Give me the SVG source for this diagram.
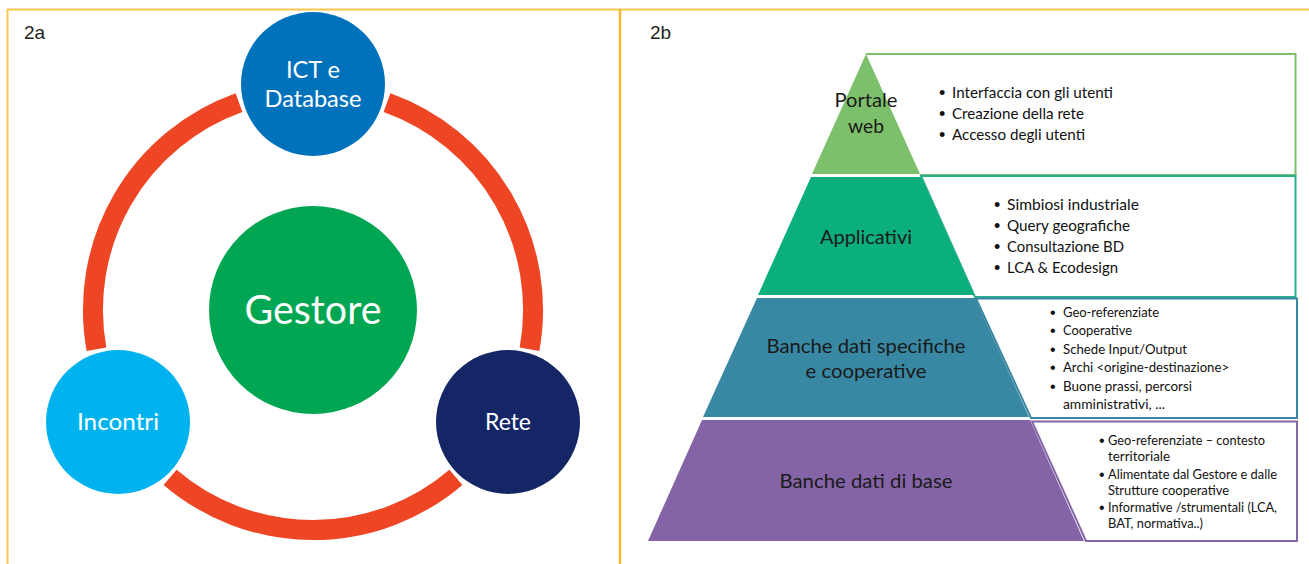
<svg xmlns="http://www.w3.org/2000/svg" width="1309" height="564" viewBox="0 0 1309 564">
<style>
.lab{font-family:Lato,"Open Sans","Liberation Sans",sans-serif;fill:#fff;text-anchor:middle}
.pl{font-family:Lato,"Open Sans","Liberation Sans",sans-serif;fill:#1a1a1a;text-anchor:middle;font-size:20px}
.bt{font-family:Lato,"Open Sans","Liberation Sans",sans-serif;fill:#111;font-size:15px}
.bs{font-family:Lato,"Open Sans","Liberation Sans",sans-serif;fill:#111;font-size:13.3px}
.bu{font-family:"Liberation Sans",Arial,sans-serif;fill:#111;font-size:18px}
.bv{font-family:"Liberation Sans",Arial,sans-serif;fill:#111;font-size:16px}
.tag{font-family:"Liberation Sans",Arial,sans-serif;fill:#231f20;font-size:19px}
.ring{fill:none;stroke:#ee4524;stroke-width:20}
.box{fill:#fff;stroke-width:2}
</style>
<rect width="1309" height="564" fill="#fff"/>
<g id="frame">
<line x1="7" y1="9.5" x2="1309" y2="9.5" stroke="#f9c64e" stroke-width="2"/>
<line x1="7.5" y1="9" x2="7.5" y2="564" stroke="#f9c64e" stroke-width="2"/>
<line x1="620" y1="9" x2="620" y2="564" stroke="#f7b733" stroke-width="2.5"/>
<text class="tag" x="24" y="39">2a</text>
<text class="tag" x="650" y="39">2b</text>
</g>
<g id="connectors">
<path class="ring" d="M 239.0 102.7 A 220 220 0 0 0 96.5 349.3"/>
<path class="ring" d="M 170.1 477.3 A 220 220 0 0 0 455.9 477.3"/>
<path class="ring" d="M 529.5 349.3 A 220 220 0 0 0 387.0 102.7"/>
</g>
<g id="ict">
<circle cx="313" cy="84" r="72" fill="#0072bc"/>
<text class="lab" x="313" y="78" font-size="24" textLength="54" lengthAdjust="spacingAndGlyphs">ICT e</text>
<text class="lab" x="313" y="107" font-size="24" textLength="97" lengthAdjust="spacingAndGlyphs">Database</text>
</g>
<g id="gestore">
<circle cx="313" cy="310" r="104" fill="#00a651"/>
<text class="lab" x="313" y="324" font-size="40" textLength="137" lengthAdjust="spacingAndGlyphs">Gestore</text>
</g>
<g id="incontri">
<circle cx="118" cy="422" r="72" fill="#00b3ef"/>
<text class="lab" x="118" y="430" font-size="24" textLength="82" lengthAdjust="spacingAndGlyphs">Incontri</text>
</g>
<g id="rete">
<circle cx="508" cy="422" r="72" fill="#152667"/>
<text class="lab" x="508" y="430" font-size="24" textLength="46" lengthAdjust="spacingAndGlyphs">Rete</text>
</g>
<g id="box1">
<path class="box" stroke="#7dc06b" d="M866 54 H1295.5 V175 H920"/>
<text class="bu" x="939" y="99">•</text>
<text class="bt" x="952" y="98" textLength="161" lengthAdjust="spacingAndGlyphs">Interfaccia con gli utenti</text>
<text class="bu" x="939" y="120">•</text>
<text class="bt" x="952" y="119" textLength="132" lengthAdjust="spacingAndGlyphs">Creazione della rete</text>
<text class="bu" x="939" y="141">•</text>
<text class="bt" x="952" y="140" textLength="133" lengthAdjust="spacingAndGlyphs">Accesso degli utenti</text>
</g>
<g id="box2">
<path class="box" stroke="#2aae8e" d="M921 176 H1295.5 V297 H975 Z"/>
<text class="bu" x="994" y="211">•</text>
<text class="bt" x="1007" y="210" textLength="132" lengthAdjust="spacingAndGlyphs">Simbiosi industriale</text>
<text class="bu" x="994" y="232">•</text>
<text class="bt" x="1007" y="231" textLength="123" lengthAdjust="spacingAndGlyphs">Query geografiche</text>
<text class="bu" x="994" y="253">•</text>
<text class="bt" x="1007" y="252" textLength="117" lengthAdjust="spacingAndGlyphs">Consultazione BD</text>
<text class="bu" x="994" y="274">•</text>
<text class="bt" x="1007" y="273" textLength="111" lengthAdjust="spacingAndGlyphs">LCA &amp; Ecodesign</text>
</g>
<g id="box3">
<path class="box" stroke="#3a87a3" d="M976 298.5 H1297 V418 H1031 Z"/>
<text class="bv" x="1050" y="318">•</text>
<text class="bs" x="1063" y="317" textLength="96" lengthAdjust="spacingAndGlyphs">Geo-referenziate</text>
<text class="bv" x="1050" y="336">•</text>
<text class="bs" x="1063" y="335" textLength="69" lengthAdjust="spacingAndGlyphs">Cooperative</text>
<text class="bv" x="1050" y="355">•</text>
<text class="bs" x="1063" y="354" textLength="124" lengthAdjust="spacingAndGlyphs">Schede Input/Output</text>
<text class="bv" x="1050" y="373">•</text>
<text class="bs" x="1063" y="372" textLength="166" lengthAdjust="spacingAndGlyphs">Archi &lt;origine-destinazione&gt;</text>
<text class="bv" x="1050" y="392">•</text>
<text class="bs" x="1063" y="391" textLength="129" lengthAdjust="spacingAndGlyphs">Buone prassi, percorsi</text>
<text class="bs" x="1063" y="409" textLength="102" lengthAdjust="spacingAndGlyphs">amministrativi, ...</text>
</g>
<g id="box4">
<path class="box" stroke="#8565a7" d="M1032 421.5 H1297 V541 H1086 Z"/>
<text class="bv" x="1099" y="446">•</text>
<text class="bs" x="1108" y="445" textLength="157" lengthAdjust="spacingAndGlyphs">Geo-referenziate – contesto</text>
<text class="bs" x="1108" y="461" textLength="62" lengthAdjust="spacingAndGlyphs">territoriale</text>
<text class="bv" x="1099" y="480">•</text>
<text class="bs" x="1108" y="479" textLength="169" lengthAdjust="spacingAndGlyphs">Alimentate dal Gestore e dalle</text>
<text class="bs" x="1108" y="495" textLength="121" lengthAdjust="spacingAndGlyphs">Strutture cooperative</text>
<text class="bv" x="1099" y="513">•</text>
<text class="bs" x="1108" y="512" textLength="169" lengthAdjust="spacingAndGlyphs">Informative /strumentali (LCA,</text>
<text class="bs" x="1108" y="528" textLength="95" lengthAdjust="spacingAndGlyphs">BAT, normativa..)</text>
</g>
<g id="layer1">
<polygon points="866,54 920,174 812,174" fill="#7dc06b"/>
<text class="pl" x="866" y="107" textLength="63" lengthAdjust="spacingAndGlyphs">Portale</text>
<text class="pl" x="866" y="133" textLength="36" lengthAdjust="spacingAndGlyphs">web</text>
</g>
<g id="layer2">
<polygon points="811,177 921,177 974,295 758,295" fill="#0bae7d"/>
<text class="pl" x="866" y="244" textLength="92" lengthAdjust="spacingAndGlyphs">Applicativi</text>
</g>
<g id="layer3">
<polygon points="757,298 975,298 1029,417 703,417" fill="#3887a3"/>
<text class="pl" x="866" y="353" textLength="199" lengthAdjust="spacingAndGlyphs">Banche dati specifiche</text>
<text class="pl" x="866" y="378" textLength="121" lengthAdjust="spacingAndGlyphs">e cooperative</text>
</g>
<g id="layer4">
<polygon points="702,420 1030,420 1084,541 648,541" fill="#8464a6"/>
<text class="pl" x="866" y="488" textLength="173" lengthAdjust="spacingAndGlyphs">Banche dati di base</text>
</g>
</svg>
